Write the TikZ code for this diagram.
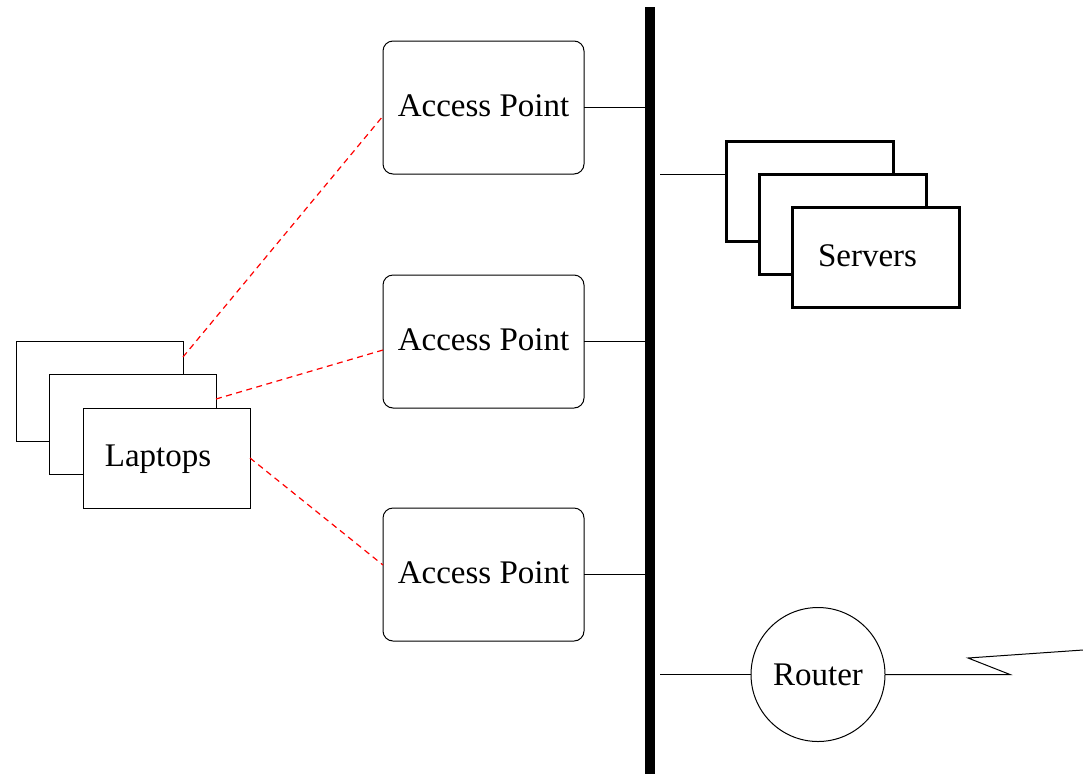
\documentclass[tikz,border=0pt]{standalone}
\usepackage{fontspec}
\setmainfont{Liberation Serif}
\begin{document}
\begin{tikzpicture}[x=1pt,y=-1pt,
  every node/.style={font=\fontsize{33}{40}\selectfont, inner sep=0pt, outer sep=0pt},
  ap/.style={draw, line width=1pt, rounded corners=10pt, minimum width=201pt, minimum height=133pt, text depth=3pt},
  lap/.style={draw, fill=white, line width=1pt, minimum width=167pt, minimum height=100pt},
  srv/.style={draw, fill=white, line width=3pt, minimum width=167pt, minimum height=100pt},
  wire/.style={line width=1pt},
  radio/.style={red, line width=1.2pt, dash pattern=on 6pt off 4.5pt},
  bus/.style={line width=10pt}]
\useasboundingbox (0,0) rectangle (1083,774);
% bus
\coordinate (bustop) at (650,7);
\coordinate (busbot) at (650,774);
% access points
\node[ap] (ap1) at (483.5,107.5) {Access Point};
\node[ap] (ap2) at (483.5,341.5) {Access Point};
\node[ap] (ap3) at (483.5,574.5) {Access Point};
\draw[wire] (ap1.east) -- (ap1.east -| bustop);
\draw[wire] (ap2.east) -- (ap2.east -| bustop);
\draw[wire] (ap3.east) -- (ap3.east -| bustop);
\draw[bus] (bustop) -- (busbot);
% laptops
\node[lap] (l1) at (99.5,391) {};
\node[lap] (l2) at (132.5,424.5) {};
\node[lap] (l3) at (166.5,458) {};
\node (laptxt) at (158,459.5) {Laptops};
% servers
\node[srv] (s1) at (809.5,191) {};
\node[srv] (s2) at (843,224) {};
\node[srv] (s3) at (876,257) {};
\node (srvtxt) at (867.5,256) {Servers};
\coordinate (sb) at (660,174);
\draw[wire] (sb) -- (s1.west |- sb);
% router
\node[draw, circle, line width=1pt, minimum size=134pt] (router) at (818,674.5) {Router};
\coordinate (rb) at (660,674.5);
\draw[wire] (rb) -- (router.west);
\coordinate (z1) at (1010,674.5);
\coordinate (z2) at (968,658);
\coordinate (z3) at (1083,650);
\draw[wire] (router.east) -- (z1) -- (z2) -- (z3);
% radio links
\draw[radio] (l1.east |- 0,357) -- (ap1.west |- 0,116);
\draw[radio] (l2.east |- 0,399) -- (ap2.west |- 0,350);
\draw[radio] (l3.east) -- (ap3.west |- 0,565);
\end{tikzpicture}
\end{document}
